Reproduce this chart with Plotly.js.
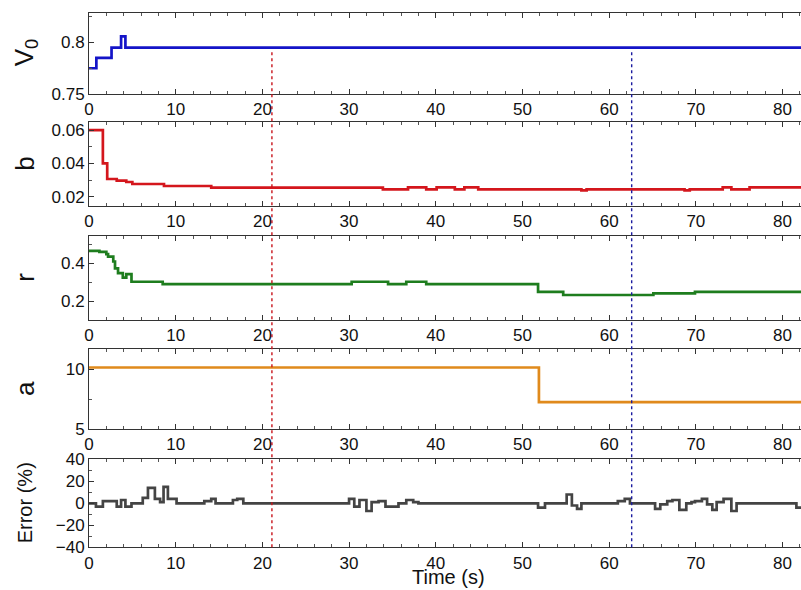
<!DOCTYPE html>
<html>
<head>
<meta charset="utf-8">
<script src="https://cdn.plot.ly/plotly-3.0.1.min.js"></script>
<style>html,body{margin:0;padding:0;background:#fff;overflow:hidden;}#chart{width:812px;height:590px;}</style>
</head>
<body>
<div id="chart"></div>
<script>
// ---- data ----
const tEnd = 83.4;
const tV0 = [0, 0.85, 2.6, 3.7, 4.2, tEnd];
const V0  = [0.775, 0.785, 0.795, 0.806, 0.795, 0.795];

const tB = [0, 1.6, 2.1, 3.2, 4.3, 5.0, 8.65, 14.1, 33.9, 36.8, 38.9, 40.1, 42.2, 43.3, 44.9, 56.8, 57.4, 68.7, 69.3, 73.1, 74.1, 76.2, tEnd];
const B  = [0.060, 0.040, 0.0306, 0.0296, 0.0288, 0.0276, 0.0264, 0.0254, 0.0244, 0.0256, 0.0244, 0.0256, 0.0244, 0.0256, 0.0244, 0.0238, 0.0244, 0.0238, 0.0244, 0.0256, 0.0244, 0.0256, 0.0256];

const tR = [0, 1.2, 2.0, 2.2, 2.8, 3.0, 3.35, 3.9, 4.3, 4.9, 8.5, 30.3, 34.5, 36.6, 38.9, 51.8, 54.7, 65.1, 69.9, tEnd];
const R  = [0.465, 0.46, 0.448, 0.435, 0.409, 0.373, 0.347, 0.324, 0.342, 0.302, 0.289, 0.302, 0.289, 0.302, 0.289, 0.249, 0.232, 0.241, 0.249, 0.249];

const tA = [0, 51.9, tEnd];
const A  = [10.15, 7.25, 7.25];

const tErr = [0, 0.8, 1.6, 3.2, 3.7, 4.2, 4.9, 6.2, 6.8, 7.6, 8.2, 8.6, 9.1, 10.1, 13.3, 14.1, 14.6, 16.6, 17.1, 17.8, 30.0, 30.6, 31.2, 32.0, 32.6, 33.4, 34.2, 35.7, 36.6, 37.4, 38.0, 51.8, 52.6, 55.1, 55.7, 56.3, 56.8, 61.0, 61.8, 62.4, 65.3, 65.9, 66.7, 67.3, 68.1, 68.9, 69.5, 69.9, 70.7, 71.3, 71.9, 72.4, 73.2, 74.1, 74.7, 81.6, tEnd];
const ERR  = [0, -3, 2, -3, 3, -3, 0, 5, 14, 4, 1, 15, 4, 0, 2, 4, 0, 3, 4, 0, 4, -3, 3, -7, 1, 2, -3, 0, 3, 1, 0, -4, 0, 8, -2, -5, 0, 2, 4, 0, -5, -1, 2, 3, -6, 0, 1, 2, 4, -1, -6, 1, 4, -7, 0, -4, -4];

const markerTimes = [21.1, 62.6];
const markerColors = ['#c8141c', '#1c1ca0'];

const yTitles = ['V<sub>0</sub>', 'b', 'r', 'a', 'Error (%)'];
const xTitle = 'Time (s)';

// ---- layout ----
const FONT = 'Liberation Sans, Arial, sans-serif';
const W = 812, L = 89;
const domains = [[0.8407, 0.9785], [0.6514, 0.7937], [0.4576, 0.6005], [0.2729, 0.4085], [0.0724, 0.2215]];
const yRanges = [[0.75, 0.829], [0.0146, 0.065], [0.1, 0.545], [5, 11.7], [-40, 40]];
const yDticks = [0.05, 0.02, 0.2, 5, 20];
const yMinor = [0.025, 0.01, 0.1, 2.5, 10];
const yTick0 = [0.75, 0, 0, 0, 0];
const colors = ['#1414c8', '#d4161c', '#1e7d1e', '#e08a1c', '#444444'];
const series = [[tV0, V0], [tB, B], [tR, R], [tA, A], [tErr, ERR]];

const traces = series.map((s, i) => ({
  x: s[0], y: s[1], type: 'scatter', mode: 'lines',
  line: {shape: 'hv', color: colors[i], width: 2.7},
  xaxis: i === 0 ? 'x' : 'x' + (i + 1),
  yaxis: i === 0 ? 'y' : 'y' + (i + 1),
  showlegend: false, hoverinfo: 'skip'
}));

const layout = {
  width: W, height: 590,
  margin: {l: L, r: 0, t: 0, b: 0},
  paper_bgcolor: '#fff', plot_bgcolor: '#fff',
  font: {family: FONT, size: 17, color: '#111'},
  showlegend: false,
  annotations: [], shapes: []
};

const px2paperX = p => (p - L) / (W - L);

for (let i = 0; i < 5; i++) {
  const xs = i === 0 ? 'xaxis' : 'xaxis' + (i + 1);
  const ys = i === 0 ? 'yaxis' : 'yaxis' + (i + 1);
  const yid = i === 0 ? 'y' : 'y' + (i + 1);
  const xid = i === 0 ? 'x' : 'x' + (i + 1);
  layout[xs] = {
    domain: [0, 1], anchor: yid, range: [0, tEnd],
    showline: true, linecolor: '#333', linewidth: 1, mirror: 'ticks',
    ticks: 'inside', ticklen: 5, tickcolor: '#333', tickwidth: 1,
    dtick: 10, tick0: 0, showgrid: false, zeroline: false,
    minor: {dtick: 2, ticks: 'inside', ticklen: 3, tickcolor: '#555', showgrid: false},
    tickfont: {size: 17, family: FONT, color: '#111'}
  };
  layout[ys] = {
    domain: domains[i], anchor: xid, range: yRanges[i],
    showline: true, linecolor: '#333', linewidth: 1, mirror: 'ticks',
    ticks: 'inside', ticklen: 5, tickcolor: '#333', tickwidth: 1,
    dtick: yDticks[i], tick0: yTick0[i], showgrid: false, zeroline: false,
    minor: {dtick: yMinor[i], ticks: 'inside', ticklen: 3, tickcolor: '#555', showgrid: false},
    tickfont: {size: 17, family: FONT, color: '#111'}
  };
  layout.annotations.push({
    xref: 'paper', yref: 'paper', x: px2paperX(25), y: (domains[i][0] + domains[i][1]) / 2,
    text: yTitles[i], showarrow: false, textangle: -90,
    font: {family: FONT, size: i === 4 ? 20 : 26, color: '#111'},
    xanchor: 'center', yanchor: 'middle'
  });
}
layout.annotations.push({
  xref: 'paper', yref: 'paper', x: px2paperX(448), y: 0.022, text: xTitle, showarrow: false,
  font: {family: FONT, size: 20, color: '#111'}, xanchor: 'center', yanchor: 'middle'
});

markerTimes.forEach((t, k) => {
  layout.shapes.push({
    type: 'line', xref: 'x', yref: 'paper', x0: t, x1: t, y0: 0.0724, y1: 0.915,
    line: {color: markerColors[k], width: 1.4, dash: 'dot'}, layer: 'above'
  });
});

Plotly.newPlot('chart', traces, layout, {staticPlot: true, displayModeBar: false});
</script>
</body>
</html>
